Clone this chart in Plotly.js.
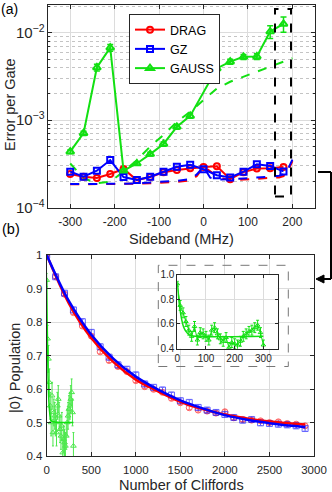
<!DOCTYPE html>
<html><head><meta charset="utf-8">
<script src="https://cdn.plot.ly/plotly-3.0.1.min.js"></script>
<style>html,body{margin:0;padding:0;background:#fff}#chart{width:332px;height:492px}</style>
</head><body><div id="chart"></div>
<script>
// ---------- Panel (a) data ----------
var sideband = [-300,-270,-240,-210,-180,-150,-120,-90,-60,-30,0,30,60,90,120,150,180];
var dragEPG = [2.43e-4,2.26e-4,2.19e-4,2.43e-4,2.77e-4,2.07e-4,2.24e-4,2.54e-4,2.70e-4,2.82e-4,2.92e-4,2.97e-4,2.12e-4,2.55e-4,2.80e-4,2.82e-4,2.92e-4];
var gzEPG = [2.58e-4,2.26e-4,2.65e-4,3.50e-4,2.24e-4,2.07e-4,2.26e-4,2.58e-4,2.94e-4,3.10e-4,2.75e-4,2.35e-4,2.22e-4,2.58e-4,3.13e-4,3.00e-4,2.60e-4];
var gaussX = [-300,-270,-240,-210,-180,-150,-120,-90,-60,-30,30,60,90,120,150,180];
var gaussEPG = [4.37e-4,7.1e-4,4.0e-3,6.75e-3,2.65e-4,3.2e-4,4.1e-4,5.35e-4,8.4e-4,1.12e-3,3.9e-3,4.67e-3,5.3e-3,5.35e-3,1.03e-2,1.26e-2];
var gaussErr = [2e-5,4e-5,3.5e-4,6e-4,1e-5,1.5e-5,2e-5,3e-5,5e-5,7e-5,3e-4,3e-4,3.5e-4,4e-4,1.7e-3,2.5e-3];
var theoryX = [-300,-270,-240,-210,-180,-150,-120,-90,-60,-30,-15,0,15,30,45,60,90,120,150,170,180,190,200];
var dragTheory = [1.85e-4,1.85e-4,1.86e-4,1.86e-4,1.87e-4,1.88e-4,1.90e-4,1.93e-4,1.97e-4,2.05e-4,2.3e-4,2.95e-4,2.6e-4,2.3e-4,2.15e-4,2.07e-4,2.10e-4,2.13e-4,2.17e-4,2.22e-4,2.3e-4,2.6e-4,3.4e-4];
var gzTheory = [1.86e-4,1.86e-4,1.87e-4,1.87e-4,1.88e-4,1.90e-4,1.93e-4,1.97e-4,2.03e-4,2.12e-4,2.4e-4,2.95e-4,2.2e-4,2.1e-4,2.1e-4,2.12e-4,2.16e-4,2.2e-4,2.27e-4,2.32e-4,2.4e-4,2.75e-4,3.55e-4];
var gaussTheoryX = [-300,-270,-240,-210,-180,-150,-120,-90,-60,-30,0,30,60,90,120,150,180,200];
var gaussTheory = [3.2e-4,2.18e-4,1.9e-4,1.98e-4,2.58e-4,3.5e-4,5.0e-4,6.8e-4,9.6e-4,1.25e-3,1.7e-3,2.3e-3,2.75e-3,3.14e-3,3.58e-3,4.1e-3,4.67e-3,5.1e-3];

// ---------- Panel (b) data ----------
var cliffords = [0,100,200,300,400,500,600,700,800,900,1000,1100,1200,1300,1400,1500,1600,1700,1800,1900,2000,2100,2200,2300,2400,2500,2600,2700,2800,2900];
var dragPop = [1.0,0.935,0.883,0.828,0.788,0.758,0.711,0.685,0.667,0.652,0.625,0.607,0.599,0.590,0.572,0.559,0.544,0.537,0.534,0.528,0.532,0.514,0.509,0.507,0.505,0.500,0.502,0.497,0.495,0.490];
var dragErr = [0.003,0.005,0.005,0.006,0.006,0.006,0.006,0.006,0.006,0.006,0.006,0.006,0.006,0.006,0.006,0.006,0.006,0.006,0.006,0.006,0.006,0.006,0.006,0.006,0.006,0.006,0.006,0.006,0.006,0.006];
var gzPop = [1.0,0.935,0.886,0.836,0.801,0.769,0.726,0.695,0.672,0.659,0.642,0.615,0.605,0.597,0.582,0.565,0.560,0.545,0.537,0.530,0.524,0.515,0.507,0.509,0.499,0.497,0.495,0.493,0.490,0.482];
var gzErr = [0.003,0.006,0.007,0.008,0.008,0.008,0.008,0.008,0.008,0.008,0.008,0.008,0.008,0.008,0.008,0.008,0.008,0.008,0.008,0.008,0.008,0.008,0.008,0.008,0.008,0.008,0.008,0.008,0.008,0.008];
var fitN = [0,250,500,750,1000,1250,1500,1750,2000,2250,2500,2750,2900];
var dragFit = [1.0,0.855,0.752,0.680,0.628,0.593,0.562,0.540,0.524,0.512,0.503,0.497,0.494];
var gzFit = [1.0,0.862,0.762,0.690,0.637,0.598,0.566,0.542,0.522,0.508,0.498,0.490,0.486];
var gaussN = [0,10,20,30,40,50,60,70,80,90,100,110,120,130,140,150,160,170,180,190,200,210,220,230,240,250,260,270,280,290,300];
var gaussPop = [0.925,0.75,0.69,0.62,0.55,0.50,0.58,0.47,0.53,0.52,0.50,0.47,0.55,0.57,0.52,0.48,0.46,0.49,0.41,0.45,0.44,0.43,0.46,0.50,0.52,0.54,0.55,0.57,0.59,0.53,0.43];
var gaussPopErr = [0.02,0.04,0.04,0.04,0.04,0.04,0.04,0.04,0.04,0.04,0.04,0.04,0.04,0.04,0.04,0.04,0.04,0.04,0.04,0.04,0.04,0.04,0.04,0.04,0.04,0.04,0.04,0.04,0.04,0.04,0.04];
var gaussFitN = [0,5,10,15,20,25,30,40,50,300];
var gaussFit = [0.93,0.80,0.71,0.64,0.59,0.56,0.54,0.515,0.505,0.50];

var sidebandTicks = [-300,-200,-100,0,100,200];
var sidebandLabels = ['-300','-200','-100','0','100','200'];
var cliffordTicks = [0,500,1000,1500,2000,2500,3000];

// ---------- styling ----------
var RED = '#ff0000', BLUE = '#0000ff', GREEN = '#12e012', AX = '#262626', GRID = '#dcdcdc';
var W = 332, H = 492;
function px(x){ return x / W; }
function py(y){ return 1 - y / H; }

function axisBase(extra){
  var a = {showline:true, linecolor:AX, linewidth:1, mirror:'ticks', ticks:'inside', ticklen:4,
           tickcolor:AX, tickfont:{size:11.5, color:AX}, showgrid:true, gridcolor:GRID, zeroline:false};
  for (var k in extra) a[k] = extra[k];
  return a;
}

var traces = [
  {x:gaussTheoryX, y:gaussTheory, xaxis:'x', yaxis:'y', mode:'lines', line:{color:GREEN, width:2, dash:'dash'}, showlegend:false},
  {x:theoryX, y:dragTheory, xaxis:'x', yaxis:'y', mode:'lines', line:{color:RED, width:2, dash:'dash'}, showlegend:false},
  {x:theoryX, y:gzTheory, xaxis:'x', yaxis:'y', mode:'lines', line:{color:BLUE, width:2, dash:'dash'}, showlegend:false},
  {name:'DRAG', x:sideband, y:dragEPG, xaxis:'x', yaxis:'y', mode:'lines+markers', line:{color:RED, width:2},
   marker:{symbol:'circle-open', size:6, color:RED, line:{width:2}}},
  {name:'GZ', x:sideband, y:gzEPG, xaxis:'x', yaxis:'y', mode:'lines+markers', line:{color:BLUE, width:2},
   marker:{symbol:'square-open', size:6, color:BLUE, line:{width:2}}},
  {name:'GAUSS', x:gaussX, y:gaussEPG, xaxis:'x', yaxis:'y', mode:'lines+markers', line:{color:GREEN, width:2},
   marker:{symbol:'triangle-up-open', size:7, color:GREEN, line:{width:2}},
   error_y:{type:'data', array:gaussErr, color:GREEN, thickness:1.5, width:3}},
  {x:gaussN, y:gaussPop, xaxis:'x2', yaxis:'y2', mode:'markers', showlegend:false, opacity:0.75,
   marker:{symbol:'triangle-up-open', size:5, color:GREEN, line:{width:1}},
   error_y:{type:'data', array:gaussPopErr, color:GREEN, thickness:1, width:1}},
  {x:gaussFitN, y:gaussFit, xaxis:'x2', yaxis:'y2', mode:'lines', showlegend:false, line:{color:GREEN, width:1.5, shape:'spline'}},
  {x:cliffords, y:dragPop, xaxis:'x2', yaxis:'y2', mode:'markers', showlegend:false, opacity:0.6,
   marker:{symbol:'circle-open', size:6, color:RED, line:{width:1}},
   error_y:{type:'data', array:dragErr, color:RED, thickness:1, width:2}},
  {x:cliffords, y:gzPop, xaxis:'x2', yaxis:'y2', mode:'markers', showlegend:false, opacity:0.6,
   marker:{symbol:'square-open', size:6, color:BLUE, line:{width:1}},
   error_y:{type:'data', array:gzErr, color:BLUE, thickness:1, width:2}},
  {x:fitN, y:dragFit, xaxis:'x2', yaxis:'y2', mode:'lines', showlegend:false, line:{color:RED, width:2.5, shape:'spline'}},
  {x:fitN, y:gzFit, xaxis:'x2', yaxis:'y2', mode:'lines', showlegend:false, line:{color:BLUE, width:2.5, shape:'spline'}},
  {x:gaussN, y:gaussPop, xaxis:'x4', yaxis:'y4', mode:'lines+markers', showlegend:false,
   line:{color:GREEN, width:1}, marker:{symbol:'triangle-up-open', size:4, color:GREEN, line:{width:1}},
   error_y:{type:'data', array:gaussPopErr, color:GREEN, thickness:1, width:1.5}},
  {x:gaussFitN, y:gaussFit, xaxis:'x4', yaxis:'y4', mode:'lines', showlegend:false, line:{color:GREEN, width:1.5, shape:'spline'}}
];

var layout = {
  width:W, height:H, margin:{l:0, r:0, t:0, b:0}, paper_bgcolor:'#fff', plot_bgcolor:'#fff',
  font:{family:'Liberation Sans, Arial, sans-serif', color:AX},
  showlegend:true,
  legend:{x:px(129), y:py(14), xanchor:'left', yanchor:'top', bgcolor:'#fff', bordercolor:AX, borderwidth:1,
          font:{size:12.5, color:'#000'}, itemwidth:30, tracegroupgap:0},
  xaxis: axisBase({domain:[px(48), px(314.6)], range:[-350,250], tickvals:sidebandTicks, ticktext:sidebandLabels, anchor:'y', ticklabelstandoff:3, tickfont:{size:12, color:AX}}),
  yaxis: axisBase({domain:[py(207.7), py(5.3)], type:'log', range:[-4,-1.687], dtick:1, exponentformat:'power', anchor:'x', tickfont:{size:12, color:AX},
          minor:{dtick:'D1', showgrid:true, gridcolor:'#c4c4c4', griddash:'dot', ticks:'inside', ticklen:2, tickcolor:AX}}),
  xaxis2: axisBase({domain:[px(46.7), px(314)], range:[0,3000], tickvals:cliffordTicks, anchor:'y2', ticklabelstandoff:3}),
  yaxis2: axisBase({domain:[py(456), py(255)], range:[0.4,1.0], dtick:0.1, anchor:'x2', ticklabelstandoff:1}),
  xaxis3: {domain:[px(158), px(288)], anchor:'y3', visible:false, range:[0,1]},
  yaxis3: {domain:[py(366.5), py(265.3)], anchor:'x3', visible:false, range:[0,1]},
  xaxis4: axisBase({domain:[px(177.3), px(277.7)], range:[0,350], dtick:100, anchor:'y4', tickfont:{size:10, color:AX}, ticklen:3}),
  yaxis4: axisBase({domain:[py(348.7), py(274.5)], range:[0.4,1.0], dtick:0.2, tickformat:'.1f', anchor:'x4', tickfont:{size:10, color:AX}, ticklen:3}),
  shapes:[
    {type:'rect', xref:'paper', yref:'paper', x0:px(275), x1:px(291), y0:py(196.5), y1:py(9), line:{color:'#000', width:2, dash:'dash'}, layer:'above'},
    {type:'rect', xref:'paper', yref:'paper', x0:px(158.3), x1:px(288.3), y0:py(366.5), y1:py(265.3), line:{color:'#777', width:1, dash:'dash'}, layer:'above'},
    {type:'line', xref:'paper', yref:'paper', x0:px(318), x1:px(331), y0:py(172), y1:py(172), line:{color:'#000', width:2}},
    {type:'line', xref:'paper', yref:'paper', x0:px(331), x1:px(331), y0:py(172), y1:py(279), line:{color:'#000', width:2}},
    {type:'line', xref:'paper', yref:'paper', x0:px(331), x1:px(322), y0:py(279), y1:py(279), line:{color:'#000', width:2}},
    {type:'path', xref:'paper', yref:'paper', path:'M '+px(316)+' '+py(279)+' L '+px(324)+' '+py(275)+' L '+px(324)+' '+py(283)+' Z',
     fillcolor:'#000', line:{color:'#000', width:1}}
  ],
  annotations:[
    {text:'(a)', xref:'paper', yref:'paper', x:px(0), y:1, xanchor:'left', yanchor:'top', borderpad:0, showarrow:false, font:{size:14, color:'#000'}},
    {text:'(b)', xref:'paper', yref:'paper', x:px(0), y:py(229), xanchor:'left', yanchor:'middle', showarrow:false, font:{size:14.5, color:'#000'}},
    {text:'Error per Gate', xref:'paper', yref:'paper', x:px(10), y:py(105), xanchor:'center', yanchor:'middle', textangle:-90, showarrow:false, font:{size:14.5, color:AX}},
    {text:'Sideband (MHz)', xref:'paper', yref:'paper', x:px(181), y:py(239), xanchor:'center', yanchor:'middle', showarrow:false, font:{size:14.5, color:AX}},
    {text:'|0⟩ Population', xref:'paper', yref:'paper', x:px(15), y:py(368), xanchor:'center', yanchor:'middle', textangle:-90, showarrow:false, font:{size:14.5, color:AX}},
    {text:'Number of Cliffords', xref:'paper', yref:'paper', x:px(181), y:py(485), xanchor:'center', yanchor:'middle', showarrow:false, font:{size:14.5, color:AX}}
  ]
};

Plotly.newPlot('chart', traces, layout, {displayModeBar:false, staticPlot:true});
</script></body></html>
